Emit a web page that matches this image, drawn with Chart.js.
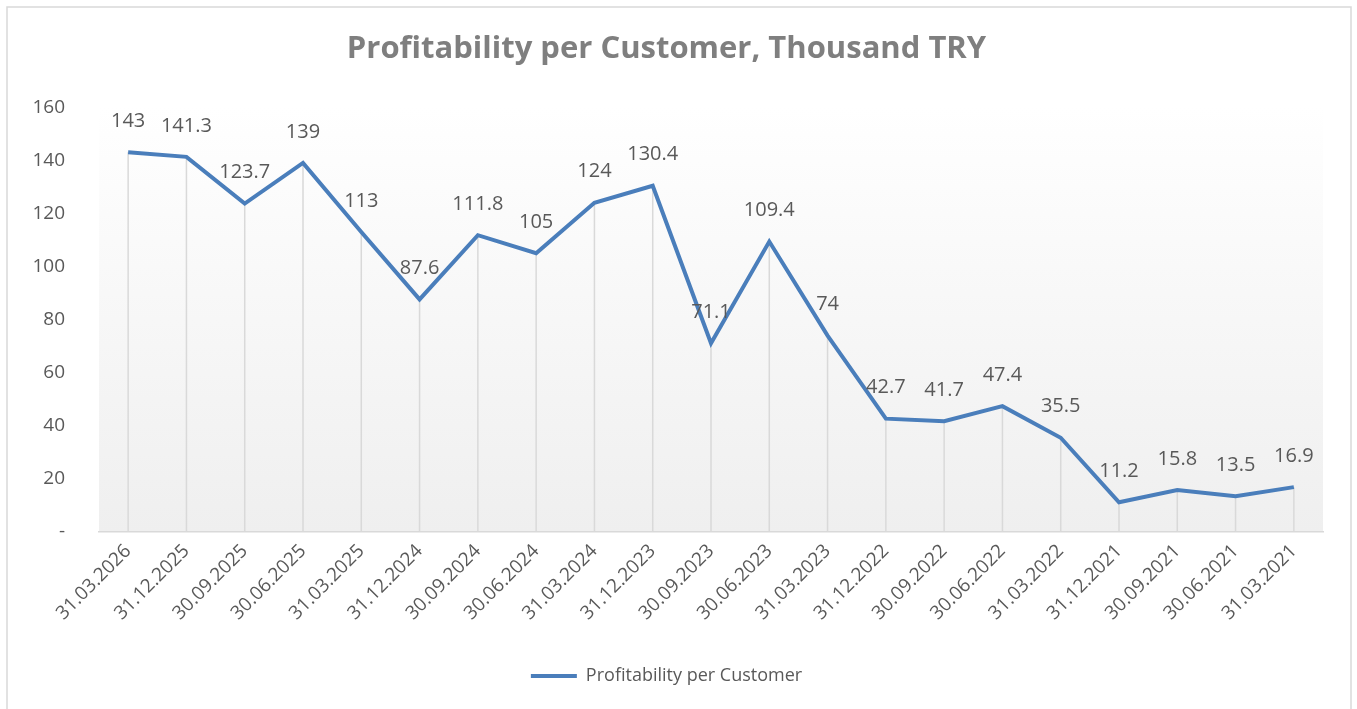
<!DOCTYPE html>
<html>
<head>
<meta charset="utf-8">
<script src="https://cdn.jsdelivr.net/npm/chart.js@4"></script>
<style>
  html, body { margin: 0; padding: 0; background: #fff; }
  #wrap { width: 1357px; height: 709px; }
</style>
</head>
<body>
<div id="wrap"><canvas id="profitChart" width="1357" height="709"></canvas></div>
<script>
// Quarter-end dates, newest first (as in the reference)
const quarters = [
    '31.03.2026', '31.12.2025', '30.09.2025', '30.06.2025', '31.03.2025',
    '31.12.2024', '30.09.2024', '30.06.2024', '31.03.2024', '31.12.2023',
    '30.09.2023', '30.06.2023', '31.03.2023', '31.12.2022', '30.09.2022',
    '30.06.2022', '31.03.2022', '31.12.2021', '30.09.2021', '30.06.2021',
    '31.03.2021'
];
const profitPerCustomer = [
    143, 141.3, 123.7, 139, 113, 87.6, 111.8, 105, 124, 130.4,
    71.1, 109.4, 74, 42.7, 41.7, 47.4, 35.5, 11.2, 15.8, 13.5, 16.9
];
const yTicks = [0, 20, 40, 60, 80, 100, 120, 140, 160];

const FONT = "'Open Sans', 'Liberation Sans', sans-serif";
const TEXT_GREY = '#595959';

// plot area gradient + outer border
const backdrop = {
    id: 'backdrop',
    beforeDraw(chart) {
        const { ctx, chartArea: a } = chart;
        ctx.save();
        const g = ctx.createLinearGradient(0, a.top, 0, a.bottom);
        g.addColorStop(0, '#ffffff');
        g.addColorStop(1, '#efefef');
        ctx.fillStyle = g;
        ctx.fillRect(a.left, a.top, a.right - a.left, a.bottom - a.top);
        ctx.strokeStyle = '#d9d9d9';
        ctx.lineWidth = 1.5;
        ctx.strokeRect(7, 7, 1344, 710);
        ctx.restore();
    }
};

// vertical drop lines from each point down to the axis
const dropLines = {
    id: 'dropLines',
    beforeDatasetsDraw(chart) {
        const { ctx, chartArea: a } = chart;
        const pts = chart.getDatasetMeta(0).data;
        ctx.save();
        ctx.strokeStyle = '#d9d9d9';
        ctx.lineWidth = 1.5;
        pts.forEach(p => {
            ctx.beginPath();
            ctx.moveTo(p.x, p.y);
            ctx.lineTo(p.x, a.bottom);
            ctx.stroke();
        });
        ctx.restore();
    }
};

// value labels above points
const valueLabels = {
    id: 'valueLabels',
    afterDatasetsDraw(chart) {
        const { ctx } = chart;
        const pts = chart.getDatasetMeta(0).data;
        ctx.save();
        ctx.font = '20px ' + FONT;
        ctx.fillStyle = TEXT_GREY;
        ctx.textAlign = 'center';
        ctx.textBaseline = 'middle';
        pts.forEach((p, i) => {
            ctx.fillText(String(profitPerCustomer[i]), p.x, p.y - 31);
        });
        ctx.restore();
    }
};

new Chart(document.getElementById('profitChart'), {
    type: 'line',
    data: {
        labels: quarters,
        datasets: [{
            label: 'Profitability per Customer',
            data: profitPerCustomer,
            borderColor: '#4a7ebb',
            backgroundColor: '#4a7ebb',
            borderWidth: 4,
            pointRadius: 0,
            pointHoverRadius: 0,
            tension: 0,
            fill: false
        }]
    },
    options: {
        responsive: false,
        animation: false,
        layout: { padding: { top: 0, left: 10, right: 34, bottom: 14 } },
        plugins: {
            title: {
                display: true,
                text: 'Profitability per Customer, Thousand TRY',
                color: '#7f7f7f',
                font: { family: FONT, size: 31, weight: 'bold' },
                padding: { top: 31, bottom: 39 }
            },
            legend: {
                position: 'bottom',
                labels: {
                    usePointStyle: true,
                    pointStyle: 'line',
                    pointStyleWidth: 46,
                    boxHeight: 18,
                    color: TEXT_GREY,
                    font: { family: FONT, size: 18 },
                    padding: 10
                }
            },
            tooltip: { enabled: false }
        },
        scales: {
            x: {
                offset: true,
                grid: { display: false, drawTicks: false },
                border: { display: true, color: '#d9d9d9', width: 1.5 },
                ticks: {
                    color: TEXT_GREY,
                    font: { family: FONT, size: 19 },
                    maxRotation: 45,
                    minRotation: 45,
                    autoSkip: false,
                    padding: 8
                },
                afterFit(scale) { scale.height = 125; }
            },
            y: {
                min: 0,
                max: 160,
                afterBuildTicks(scale) {
                    scale.ticks = yTicks.map(v => ({ value: v }));
                },
                grid: { display: false, drawTicks: false },
                border: { display: false },
                ticks: {
                    color: TEXT_GREY,
                    font: { family: FONT, size: 19 },
                    padding: 34,
                    callback: v => (v === 0 ? '-' : v)
                },
                afterFit(scale) { scale.width = 89; }
            }
        }
    },
    plugins: [backdrop, dropLines, valueLabels]
});
</script>
</body>
</html>
